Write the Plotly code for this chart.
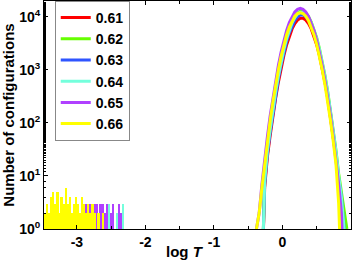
import numpy as np
import plotly.graph_objects as go

# series labels and colours
labels = ["0.61", "0.62", "0.63", "0.64", "0.65", "0.66"]
colors = ["#ff0000", "#66ff00", "#2f55ff", "#74ffdc", "#b040ff", "#ffff00"]

# main peak: bin centres in log T (step 0.04)
peak_logT = [-0.38, -0.34, -0.30, -0.26, -0.22, -0.18, -0.14, -0.10, -0.06, -0.02,
             0.02, 0.06, 0.10, 0.14, 0.18, 0.22, 0.26, 0.30, 0.34, 0.38,
             0.42, 0.46, 0.50, 0.54, 0.58, 0.62, 0.66, 0.70, 0.74, 0.78,
             0.82, 0.86, 0.90, 0.94]

peak_061 = [0, 0, 0, 6, 23, 57, 134, 291, 583, 1085, 1860, 2965, 4365, 5940, 7500, 8750, 9460,
            9460, 8750, 7500, 5940, 4365, 2965, 1860, 1085, 583, 291, 134, 57, 23, 8, 3, 1, 0]
peak_062 = [0, 0, 0, 8, 31, 77, 181, 393, 787, 1465, 2510, 4000, 5890, 8020, 10130, 11810, 12770,
            12770, 11810, 10130, 8020, 5890, 4000, 2510, 1465, 787, 393, 181, 77, 31, 11, 5, 2, 1]
peak_063 = [0, 0, 0, 7, 26, 66, 154, 335, 670, 1250, 2140, 3410, 5020, 6830, 8625, 10060, 10880,
            10880, 10060, 8625, 6830, 5020, 3410, 2140, 1250, 670, 335, 154, 66, 26, 9, 4, 1, 0]
peak_064 = [0, 0, 0, 8, 30, 74, 174, 378, 758, 1410, 2420, 3850, 5670, 7720, 9750, 11380, 12300,
            12300, 11380, 9750, 7720, 5670, 3850, 2420, 1410, 758, 378, 174, 74, 30, 10, 4, 1, 0]
peak_065 = [1, 2, 7, 21, 55, 135, 302, 630, 1215, 2170, 3590, 5500, 7780, 10210, 12390, 13900, 14450,
            13900, 12390, 10210, 7780, 5500, 3590, 2170, 1215, 630, 302, 135, 55, 21, 7, 2, 0, 0]
peak_066 = [1, 2, 6, 17, 46, 112, 250, 523, 1010, 1800, 2980, 4570, 6460, 8480, 10290, 11540, 12000,
            11540, 10290, 8480, 6460, 4570, 2980, 1800, 1010, 523, 250, 112, 46, 17, 3, 0, 0, 0]

# low-T tail: bins of 0.03 starting at log T = -3.46
tail_logT = np.round(-3.46 + 0.03 * np.arange(48), 2)

tail_061 = [0]*15 + [1] + [0]*8 + [1] + [0]*23
tail_062 = [0]*20 + [1] + [0]*7 + [2] + [0]*4 + [1] + [0]*14
tail_063 = [0]*30 + [1] + [0]*2 + [1] + [0]*3 + [1, 2] + [0]*9
tail_064 = ([0]*25 + [1, 2, 3, 2, 1, 2, 3, 2, 2, 1, 2, 1, 2, 3, 1, 1, 1, 1, 1, 1] + [0]*3)
tail_065 = ([0, 1, 0, 0, 1, 0, 0, 2, 0, 1, 0, 0, 1, 0,
             2, 4, 3, 2, 3, 2, 3, 2, 3, 2, 3, 3, 2, 3, 3, 2, 3, 1, 2, 3, 1, 1, 3, 2, 1] + [0]*9)
tail_066 = ([2, 3, 2, 4, 5, 3, 5, 2, 4, 3, 6, 3, 4, 2, 3, 4, 3, 2, 4, 3, 2, 3, 2, 3, 2, 1, 2, 1, 2, 1, 1]
            + [0]*17)

peaks = [peak_061, peak_062, peak_063, peak_064, peak_065, peak_066]
tails = [tail_061, tail_062, tail_063, tail_064, tail_065, tail_066]


def floor_zero(counts):
    # empty bins drawn below the axis floor so they stay out of view
    return [c if c > 0 else 0.1 for c in counts]


fig = go.Figure()
for lab, col, pk, tl in zip(labels, colors, peaks, tails):
    fig.add_trace(go.Bar(x=tail_logT, y=floor_zero(tl), width=0.026,
                         marker=dict(color=col, line=dict(width=0)),
                         showlegend=False, hoverinfo="skip"))
    fig.add_trace(go.Scatter(x=peak_logT, y=floor_zero(pk), mode="lines", name=lab,
                             line=dict(color=col, width=3)))

fam = "Liberation Sans, Arial, sans-serif"

fig.update_layout(
    width=353, height=264,
    margin=dict(l=44, r=2, t=1, b=35),
    paper_bgcolor="white", plot_bgcolor="white",
    font=dict(family=fam, size=14, color="black"),
    barmode="overlay", bargap=0,
    showlegend=True,
    legend=dict(x=0.035, y=1.0, xanchor="left", yanchor="top",
                bordercolor="#888888", borderwidth=1, bgcolor="white",
                font=dict(size=14, family=fam, weight="bold"),
                tracegroupgap=0, itemwidth=30),
)

# x-axis title sits left of centre in the original, so place it as paper text
fig.add_annotation(text="<b>log <i>T</i></b>", xref="paper", yref="paper",
                   x=0.46, y=-0.10, xanchor="center", yanchor="middle",
                   showarrow=False, font=dict(size=15, family=fam))

fig.update_xaxes(range=[-3.48, 1.0], tickvals=[-3, -2, -1, 0, 1],
                 ticktext=["<b>-3</b>", "<b>-2</b>", "<b>-1</b>", "<b>0</b>", "<b>1</b>"],
                 ticks="inside", ticklen=4, tickcolor="black",
                 minor=dict(dtick=0.5, ticks="inside", ticklen=3, tickcolor="black", showgrid=False),
                 showline=True, linecolor="black", linewidth=1, mirror="ticks",
                 showgrid=False, zeroline=False, automargin=False,
                 tickfont=dict(size=14))

fig.update_yaxes(type="log", range=[0, 4.3],
                 tickvals=[1, 10, 100, 1000, 10000],
                 ticktext=["<b>10<sup>0</sup></b>", "<b>10<sup>1</sup></b>", "<b>10<sup>2</sup></b>",
                           "<b>10<sup>3</sup></b>", "<b>10<sup>4</sup></b>"],
                 ticks="inside", ticklen=4, tickcolor="black",
                 minor=dict(ticks="inside", ticklen=2, tickcolor="black", showgrid=False),
                 showline=True, linecolor="black", linewidth=1, mirror="ticks",
                 showgrid=False, zeroline=False, automargin=False,
                 tickfont=dict(size=14),
                 title=dict(text="<b>Number of configurations</b>", standoff=1, font=dict(size=15)))

fig.write_html("out.html", config={"displayModeBar": False},
               post_script="document.body.style.margin='0';")
